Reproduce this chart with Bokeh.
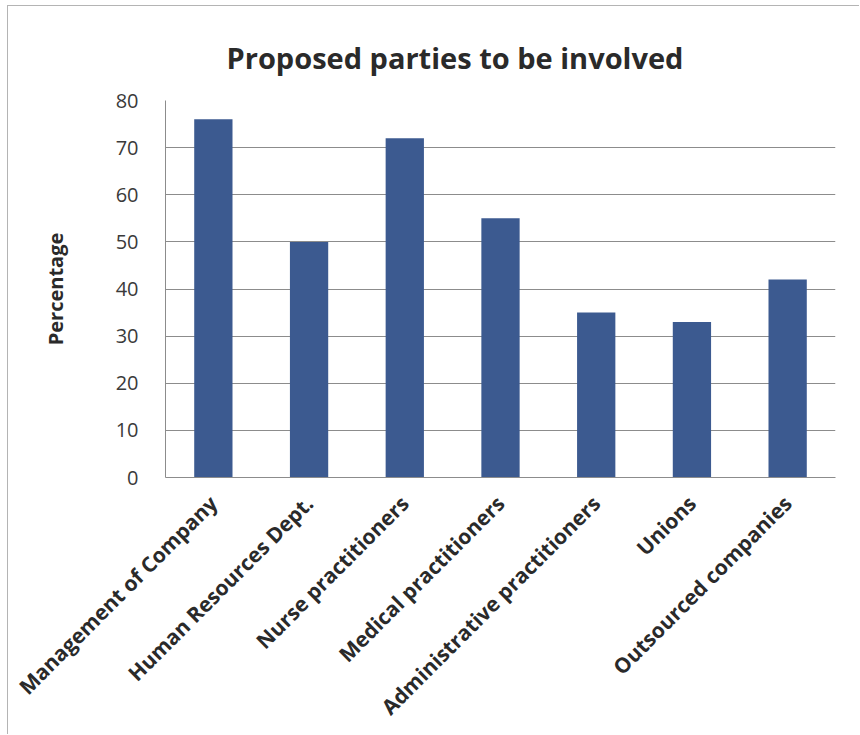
from math import pi
from bokeh.plotting import figure
from bokeh.models import Title, FixedTicker
from bokeh.embed import file_html
from bokeh.resources import INLINE

categories = ["Management of Company", "Human Resources Dept.", "Nurse practitioners",
              "Medical practitioners", "Administrative practitioners", "Unions",
              "Outsourced companies"]
values = [76, 50, 72, 55, 35, 33, 42]
y_ticks = [0, 10, 20, 30, 40, 50, 60, 70, 80]

FONT = "Open Sans"

p = figure(x_range=categories, y_range=(0, 80), width=852, height=729,
           output_backend="svg", toolbar_location=None,
           min_border_left=157, min_border_right=25, min_border_top=94,
           min_border_bottom=258)
p.title = None
p.add_layout(Title(text="Proposed parties to be involved", align="left",
                   text_font=FONT, text_font_size="29px", text_font_style="bold",
                   text_color="#2a2a2a", offset=61, standoff=47), "above")

p.vbar(x=categories, top=values, width=0.4, color="#3C5A90", line_color=None)

p.outline_line_color = None
p.background_fill_color = "white"
p.border_fill_color = "white"
p.styles = {"margin-left": "7px", "margin-top": "5px",
            "border-left": "1px solid #b4b4b4", "border-top": "1px solid #b4b4b4"}

p.xgrid.grid_line_color = None
p.ygrid.grid_line_color = "#8c8c8c"
p.ygrid.grid_line_width = 1.2
p.yaxis.ticker = FixedTicker(ticks=y_ticks)

p.yaxis.axis_line_color = "#8c8c8c"
p.yaxis.major_tick_line_color = None
p.yaxis.minor_tick_line_color = None
p.yaxis.major_label_text_font = FONT
p.yaxis.major_label_text_font_size = "20px"
p.yaxis.major_label_text_color = "#3a3a3a"
p.yaxis.major_label_standoff = 21
p.yaxis.axis_label = "Percentage"
p.yaxis.axis_label_text_font = FONT
p.yaxis.axis_label_text_font_size = "20px"
p.yaxis.axis_label_text_font_style = "bold"
p.yaxis.axis_label_text_color = "#2a2a2a"
p.yaxis.axis_label_standoff = 44

p.xaxis.axis_line_color = "#8c8c8c"
p.xaxis.major_tick_line_color = None
p.xaxis.minor_tick_line_color = None
p.xaxis.major_label_orientation = pi / 4
p.xaxis.major_label_text_font = FONT
p.xaxis.major_label_text_font_size = "21px"
p.xaxis.major_label_text_font_style = "bold"
p.xaxis.major_label_text_color = "#2a2a2a"
p.xaxis.major_label_standoff = 16

open("out.html", "w").write(file_html(p, INLINE))
